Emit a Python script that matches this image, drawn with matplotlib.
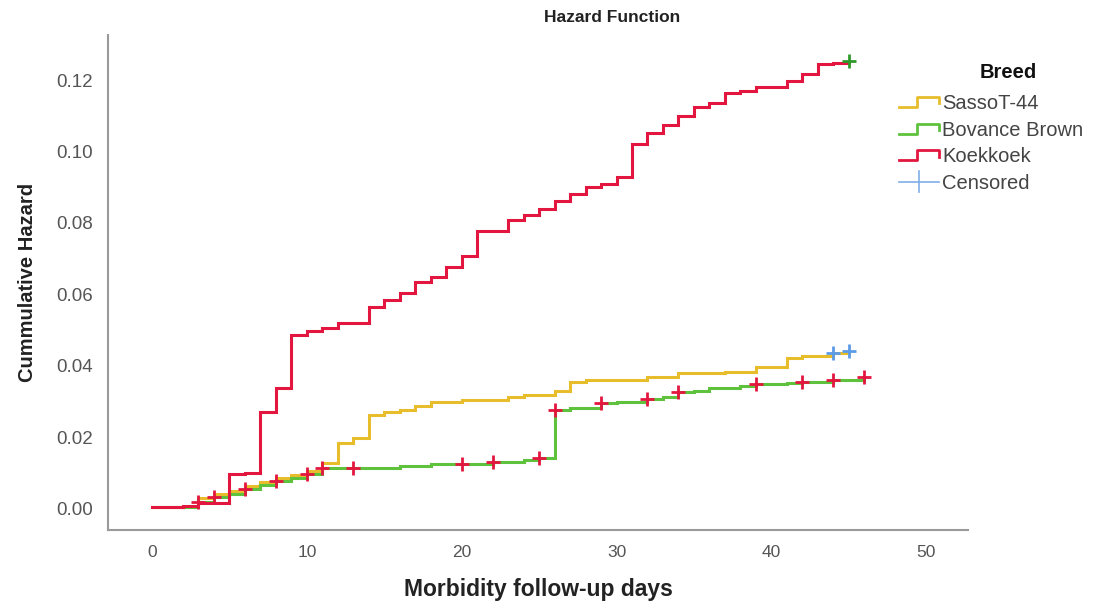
import numpy as np
import matplotlib
matplotlib.use("Agg")
import matplotlib.pyplot as plt
from matplotlib.lines import Line2D
from matplotlib.legend_handler import HandlerBase

plt.rcParams['font.family'] = ['Liberation Sans', 'DejaVu Sans']

# ---- data ----
series_names = ["SassoT-44", "Bovance Brown", "Koekkoek"]

sasso_t = [0, 3, 4, 5, 6, 7, 8, 9, 10, 11, 12, 13, 14, 15, 16, 17, 18, 20, 23, 24,
           26, 27, 28, 32, 34, 37, 39, 41, 42, 44, 45]
sasso_h = [0.0005, 0.0031, 0.0043, 0.0050, 0.0063, 0.0076, 0.0087, 0.0096, 0.0105, 0.0129,
           0.0184, 0.0199, 0.0263, 0.0272, 0.0277, 0.0288, 0.0300, 0.0305, 0.0313, 0.0319,
           0.0330, 0.0355, 0.0361, 0.0369, 0.0380, 0.0383, 0.0397, 0.0422, 0.0428, 0.0435, 0.0443]
sasso_cens = [44, 45]

bov_t = [0, 3, 4, 5, 6, 7, 8, 9, 10, 11, 16, 18, 22, 24, 25, 26, 27, 29, 30, 32,
         33, 34, 35, 36, 38, 39, 41, 42, 44, 46]
bov_h = [0.0004, 0.0020, 0.0033, 0.0043, 0.0056, 0.0067, 0.0077, 0.0086, 0.0097, 0.0114,
         0.0120, 0.0126, 0.0131, 0.0137, 0.0142, 0.0277, 0.0282, 0.0295, 0.0300, 0.0307,
         0.0312, 0.0327, 0.0331, 0.0338, 0.0344, 0.0349, 0.0352, 0.0355, 0.0360, 0.0368]
bov_cens = [3, 4, 6, 8, 10, 11, 13, 20, 22, 25, 26, 29, 32, 34, 39, 42, 44, 46]

koek_t = [0, 2, 3, 5, 6, 7, 8, 9, 10, 11, 12, 14, 15, 16, 17, 18, 19, 20, 21, 23,
          24, 25, 26, 27, 28, 29, 30, 31, 32, 33, 34, 35, 36, 37, 38, 39, 41, 42, 43, 44, 45]
koek_h = [0.0006, 0.0009, 0.0017, 0.0099, 0.0101, 0.0271, 0.0338, 0.0487, 0.0498, 0.0506,
          0.0520, 0.0565, 0.0585, 0.0605, 0.0635, 0.0649, 0.0677, 0.0708, 0.0778, 0.0808,
          0.0822, 0.0839, 0.0862, 0.0881, 0.0901, 0.0909, 0.0929, 0.1021, 0.1052, 0.1075,
          0.1100, 0.1124, 0.1136, 0.1164, 0.1170, 0.1180, 0.1197, 0.1217, 0.1245, 0.1248, 0.1253]
koek_cens = [45]

x_ticks = [0, 10, 20, 30, 40, 50]
y_ticks = [0.00, 0.02, 0.04, 0.06, 0.08, 0.10, 0.12]

# ---- styles ----
line_colors = ["#E7BD2C", "#5EC23C", "#E2163F"]
cens_colors = ["#5C9BE6", "#E2163F", "#2E9A2A"]

fig = plt.figure(figsize=(11.18, 6.08), dpi=100)
ax = fig.add_axes([108/1118, 1-530/608, (968-108)/1118, (530-35)/608])

data = [(sasso_t, sasso_h, sasso_cens), (bov_t, bov_h, bov_cens), (koek_t, koek_h, koek_cens)]
for (t, h, c), lc, cc in zip(data, line_colors, cens_colors):
    t = np.asarray(t, float); h = np.asarray(h, float)
    ax.step(t, h, where='post', color=lc, lw=2.2, zorder=3, solid_joinstyle='miter')
for (t, h, c), lc, cc in zip(data, line_colors, cens_colors):
    t = np.asarray(t, float); h = np.asarray(h, float)
    idx = np.searchsorted(t, c, side='right') - 1
    ax.plot(c, h[idx], ls='none', marker='+', ms=10, mew=2.0, color=cc, zorder=4)

x0 = -2.84; x1 = 52.7
ax.set_xlim(x0, x1)
ax.set_ylim(-0.0059, 0.1326)
ax.set_xticks(x_ticks)
ax.set_yticks(y_ticks)
ax.set_yticklabels([f"{v:.2f}" for v in y_ticks])
ax.tick_params(length=0, labelcolor="#555555")
ax.tick_params(axis='x', pad=11, labelsize=12.5)
ax.tick_params(axis='y', pad=11, labelsize=13.5)
for s in ['top', 'right']:
    ax.spines[s].set_visible(False)
for s in ['left', 'bottom']:
    ax.spines[s].set_color("#9a9a9a")
    ax.spines[s].set_linewidth(1.5)

ax.set_xlabel("Morbidity follow-up days", fontsize=16.5, fontweight='bold', labelpad=13, color="#222222")
ax.set_ylabel("Cummulative Hazard", fontsize=14.5, fontweight='bold', labelpad=14, color="#222222")
fig.text(612/1118, 1-18/608, "Hazard Function", ha='center', va='center',
         fontsize=12.5, fontweight='bold', color="#222222")


class StepHandler(HandlerBase):
    def create_artists(self, legend, orig_handle, xdescent, ydescent, width, height, fontsize, trans):
        xs = np.array([0, 0.45, 0.45, 1.0, 1.0]) * width - xdescent
        ys = np.array([0.15, 0.15, 0.85, 0.85, 0.4]) * height - ydescent
        l = Line2D(xs, ys, color=orig_handle.get_color(), lw=2.0, transform=trans)
        return [l]


class CensHandler(HandlerBase):
    def create_artists(self, legend, orig_handle, xdescent, ydescent, width, height, fontsize, trans):
        yc = 0.5 * height - ydescent
        h = Line2D([-xdescent, width - xdescent], [yc, yc], color=orig_handle.get_color(), lw=1.2, transform=trans)
        v = Line2D([0.5 * width - xdescent] * 2, [yc - 0.75 * height, yc + 0.75 * height],
                   color=orig_handle.get_color(), lw=1.2, transform=trans)
        return [h, v]


handles = [Line2D([], [], color=c) for c in line_colors]
cens_handle = Line2D([], [], color="#7FAEE8")
handler_map = {h: StepHandler() for h in handles}
handler_map[cens_handle] = CensHandler()
leg = fig.legend(handles + [cens_handle], series_names + ["Censored"],
                 handler_map=handler_map, loc='upper left',
                 bbox_to_anchor=(899/1118, 1-94/608), frameon=False,
                 fontsize=14.5, handlelength=2.0, handletextpad=0.15,
                 labelspacing=0.38, borderaxespad=0, borderpad=0)
for t in leg.get_texts():
    t.set_color("#444444")
fig.text(1008/1118, 1-72/608, "Breed", ha='center', va='center',
         fontsize=14.5, fontweight='bold', color="#111111")

fig.savefig("out.png", dpi=100)
